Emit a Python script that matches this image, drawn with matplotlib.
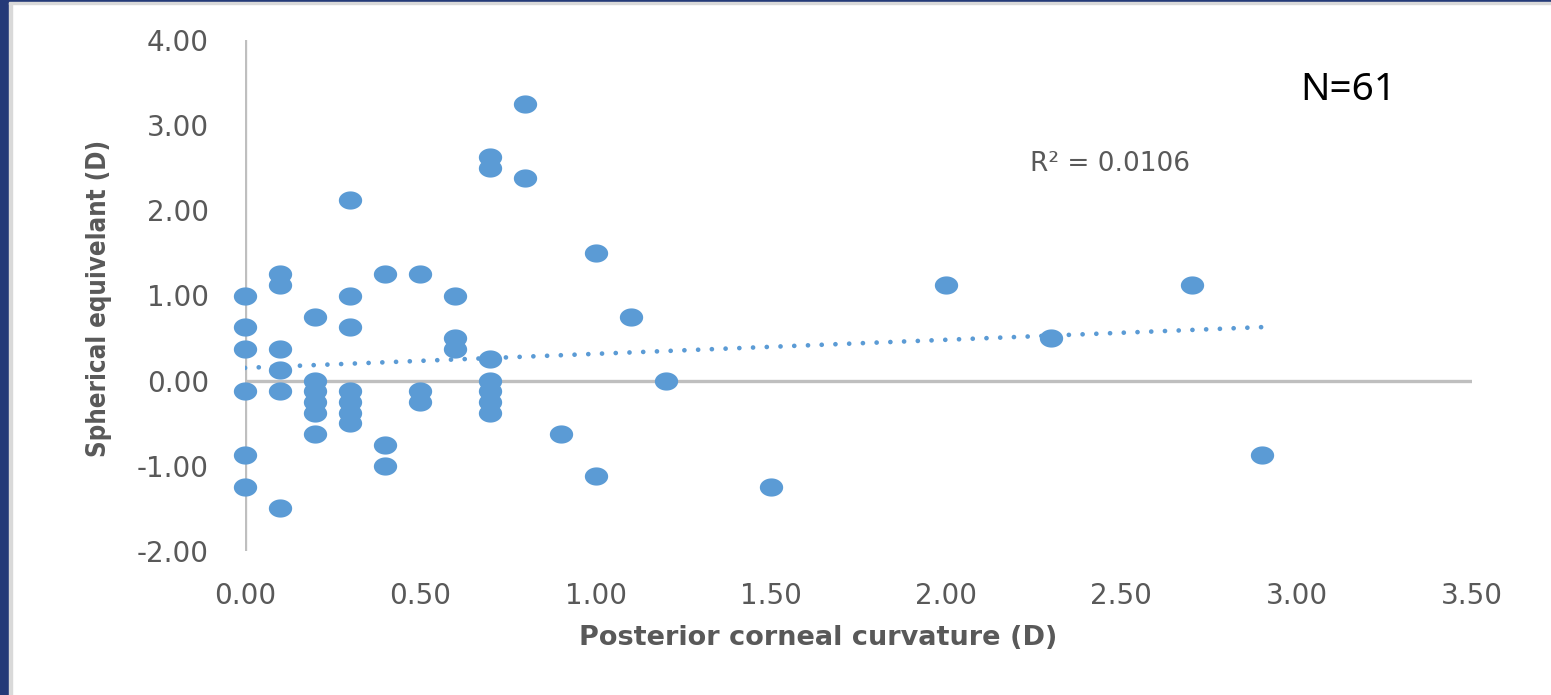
import numpy as np
import matplotlib.pyplot as plt
from matplotlib.path import Path
from matplotlib.patches import Rectangle

# posterior corneal curvature (D) and spherical equivalent (D)
curv = [0.0, 0.0, 0.0, 0.0, 0.0, 0.0,
        0.1, 0.1, 0.1, 0.1, 0.1, 0.1,
        0.2, 0.2, 0.2, 0.2, 0.2, 0.2,
        0.3, 0.3, 0.3, 0.3, 0.3, 0.3, 0.3,
        0.4, 0.4, 0.4,
        0.5, 0.5, 0.5,
        0.6, 0.6, 0.6,
        0.7, 0.7, 0.7, 0.7, 0.7, 0.7, 0.7,
        0.8, 0.8, 0.9, 1.0, 1.0, 1.1, 1.2, 1.5, 2.0, 2.3, 2.7, 2.9]
sph = [1.0, 0.625, 0.375, -0.125, -0.875, -1.25,
       1.25, 1.125, 0.375, 0.125, -0.125, -1.5,
       0.75, 0.0, -0.125, -0.25, -0.375, -0.625,
       2.125, 1.0, 0.625, -0.125, -0.25, -0.375, -0.5,
       1.25, -0.75, -1.0,
       1.25, -0.125, -0.25,
       1.0, 0.5, 0.375,
       2.625, 2.5, 0.25, 0.0, -0.125, -0.25, -0.375,
       3.25, 2.375, -0.625, 1.5, -1.125, 0.75, 0.0, -1.25, 1.125, 0.5, 1.125, -0.875]

# linear trendline as shown on the chart
trend_b0 = 0.15
trend_b1 = 0.165
r2_text = 'R² = 0.0106'
n_text = 'N=61'

blue = '#5b9bd5'
grey = '#595959'

fig = plt.figure(figsize=(15.51, 6.95), dpi=100)
ax = fig.add_axes([245 / 1551, 1 - 551 / 695, 1227 / 1551, 511 / 695])

# slide frame
fig.patches.append(Rectangle((0, 0), 9 / 1551, 1, transform=fig.transFigure, color='#243a78', zorder=0))
fig.patches.append(Rectangle((9 / 1551, 0), 3 / 1551, 1, transform=fig.transFigure, color='#d9d9d9', zorder=0))
fig.patches.append(Rectangle((0, 1 - 2 / 695), 1, 2 / 695, transform=fig.transFigure, color='#243a78', zorder=0))
fig.patches.append(Rectangle((9 / 1551, 1 - 4 / 695), 1, 2 / 695, transform=fig.transFigure, color='#d9d9d9', zorder=0))

# elliptic marker like Excel's
t = np.linspace(0, 2 * np.pi, 60)
ell = Path(np.column_stack([np.cos(t), 0.78 * np.sin(t)]), closed=True)

ax.axhline(0, color='#bfbfbf', lw=2.4, zorder=1)
ax.axvline(0, color='#bfbfbf', lw=2.4, zorder=1)

xs = np.array([0, max(curv)])
ax.plot(xs, trend_b0 + trend_b1 * xs, color=blue, lw=3.4,
        linestyle=(0, (0.01, 2.9)), dash_capstyle='round', zorder=2)
ax.plot(curv, sph, linestyle='none', marker=ell, markersize=16.8,
        color=blue, markeredgewidth=0, zorder=3, clip_on=False)

ax.set_xlim(0, 3.5)
ax.set_ylim(-2, 4)
ax.set_xticks(np.arange(0, 3.51, 0.5))
ax.set_yticks(np.arange(-2, 4.01, 1))
ax.set_xticklabels([f'{v:.2f}' for v in np.arange(0, 3.51, 0.5)])
ax.set_yticklabels([f'{v:.2f}' for v in np.arange(-2, 4.01, 1)])
ax.tick_params(length=0, labelsize=20, labelcolor=grey)
ax.tick_params(axis='x', pad=22)
ax.tick_params(axis='y', pad=26)
for s in ax.spines.values():
    s.set_visible(False)

fig.text(818 / 1551, 1 - 638 / 695, 'Posterior corneal curvature (D)', ha='center', va='center',
         fontsize=19.5, fontweight='bold', color=grey, family='DejaVu Sans')
fig.text(99 / 1551, 1 - 298 / 695, 'Spherical equivelant (D)', ha='center', va='center',
         rotation=90, fontsize=18.5, fontweight='bold', fontstretch='condensed', color=grey,
         family=['Liberation Sans Narrow', 'DejaVu Sans'])
fig.text(1110 / 1551, 1 - 164 / 695, r2_text, ha='center', va='center', fontsize=19, color=grey)
fig.text(1348 / 1551, 1 - 90 / 695, n_text, ha='center', va='center', fontsize=28, color='black',
         family='Noto Sans')

fig.savefig('out.png', dpi=100, facecolor='white')
